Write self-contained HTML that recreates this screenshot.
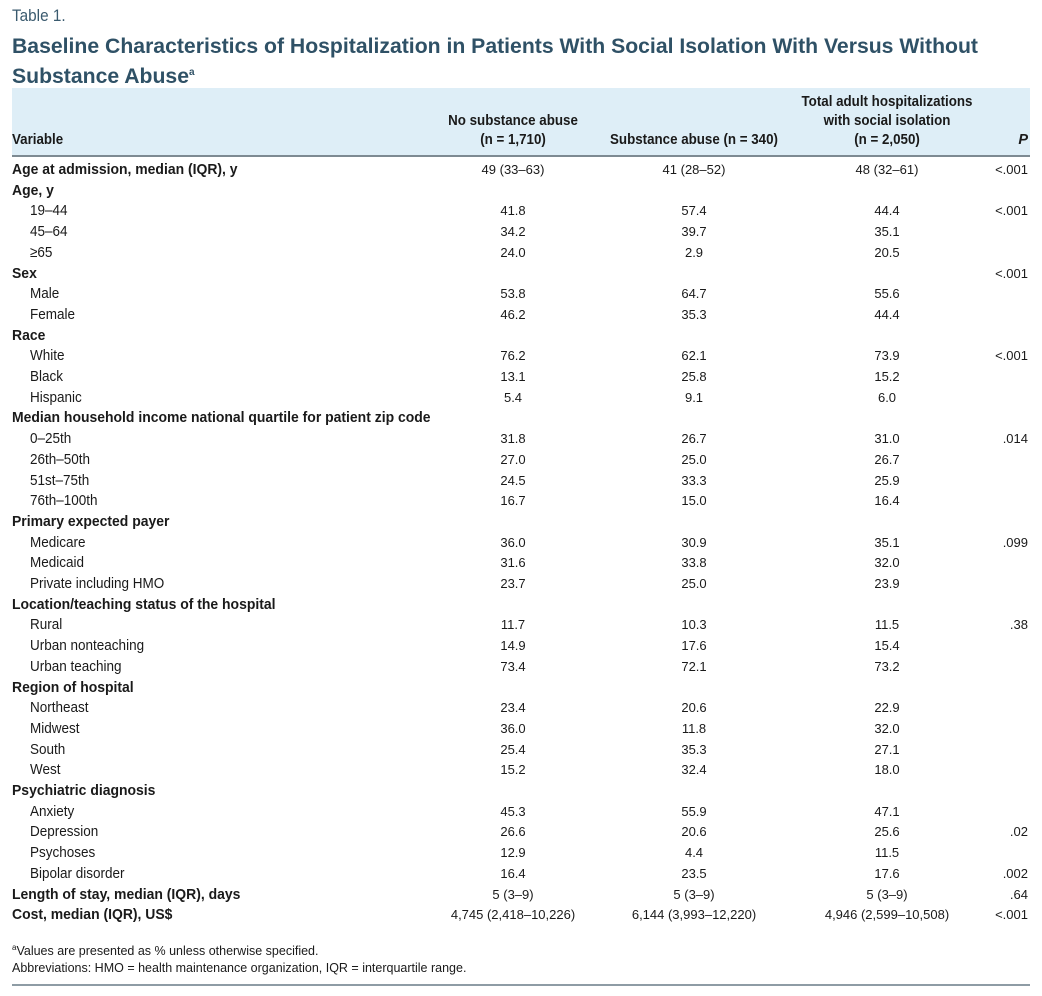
<!DOCTYPE html>
<html><head><meta charset="utf-8">
<style>
body{margin:0;width:1042px;height:996px;background:#fff;position:relative;overflow:hidden;font-family:"Liberation Sans",sans-serif;color:#1a1a1a}
.a{position:absolute;white-space:nowrap}
.lab{font-size:15px;transform:scaleX(0.9);transform-origin:0 0}
.num{font-size:13px;transform:translateX(-50%)}
.p{font-size:13px;transform:translateX(-100%)}
.b{font-weight:bold;transform:scaleX(0.93)}
.h{font-weight:bold;font-size:14.5px;text-align:center;line-height:19px}
</style></head><body>
<div class="a" style="left:12px;top:6px;font-size:17px;color:#3a5a6e;transform:scaleX(0.9);transform-origin:0 0">Table 1.</div>
<div class="a" style="left:12px;top:34px;font-weight:bold;font-size:21.2px;line-height:26px;color:#2f5166">Baseline Characteristics of Hospitalization in Patients With Social Isolation With Versus Without<br>Substance Abuse<sup style="font-size:10px">a</sup></div>
<div class="a" style="left:12px;top:88px;width:1018px;height:67px;background:#deeef7;border-bottom:2px solid #7d8a92"></div>
<div class="a h" style="left:12px;top:131px;transform:scaleX(0.92);transform-origin:0 0">Variable</div>
<div class="a h" style="left:513px;top:112px;transform:translateX(-50%) scaleX(0.92)">No substance abuse<br>(n = 1,710)</div>
<div class="a h" style="left:694px;top:131px;transform:translateX(-50%) scaleX(0.92)">Substance abuse (n = 340)</div>
<div class="a h" style="left:887px;top:93px;transform:translateX(-50%) scaleX(0.92)">Total adult hospitalizations<br>with social isolation<br>(n = 2,050)</div>
<div class="a h" style="left:1028px;top:131px;transform:translateX(-100%);font-style:italic">P</div>
<div id="rows"></div>
<div class="a" style="left:12px;top:943px;font-size:12.5px"><sup style="font-size:8px">a</sup>Values are presented as % unless otherwise specified.</div>
<div class="a" style="left:12px;top:961px;font-size:12.5px">Abbreviations: HMO = health maintenance organization, IQR = interquartile range.</div>
<div class="a" style="left:12px;top:984px;width:1018px;height:2px;background:#8e9ca5"></div>
<script>
const rows=[
["Age at admission, median (IQR), y",1,"49 (33–63)","41 (28–52)","48 (32–61)","<.001"],
["Age, y",1,"","","",""],
["19–44",0,"41.8","57.4","44.4","<.001"],
["45–64",0,"34.2","39.7","35.1",""],
["≥65",0,"24.0","2.9","20.5",""],
["Sex",1,"","","","<.001"],
["Male",0,"53.8","64.7","55.6",""],
["Female",0,"46.2","35.3","44.4",""],
["Race",1,"","","",""],
["White",0,"76.2","62.1","73.9","<.001"],
["Black",0,"13.1","25.8","15.2",""],
["Hispanic",0,"5.4","9.1","6.0",""],
["Median household income national quartile for patient zip code",1,"","","",""],
["0–25th",0,"31.8","26.7","31.0",".014"],
["26th–50th",0,"27.0","25.0","26.7",""],
["51st–75th",0,"24.5","33.3","25.9",""],
["76th–100th",0,"16.7","15.0","16.4",""],
["Primary expected payer",1,"","","",""],
["Medicare",0,"36.0","30.9","35.1",".099"],
["Medicaid",0,"31.6","33.8","32.0",""],
["Private including HMO",0,"23.7","25.0","23.9",""],
["Location/teaching status of the hospital",1,"","","",""],
["Rural",0,"11.7","10.3","11.5",".38"],
["Urban nonteaching",0,"14.9","17.6","15.4",""],
["Urban teaching",0,"73.4","72.1","73.2",""],
["Region of hospital",1,"","","",""],
["Northeast",0,"23.4","20.6","22.9",""],
["Midwest",0,"36.0","11.8","32.0",""],
["South",0,"25.4","35.3","27.1",""],
["West",0,"15.2","32.4","18.0",""],
["Psychiatric diagnosis",1,"","","",""],
["Anxiety",0,"45.3","55.9","47.1",""],
["Depression",0,"26.6","20.6","25.6",".02"],
["Psychoses",0,"12.9","4.4","11.5",""],
["Bipolar disorder",0,"16.4","23.5","17.6",".002"],
["Length of stay, median (IQR), days",1,"5 (3–9)","5 (3–9)","5 (3–9)",".64"],
["Cost, median (IQR), US$",1,"4,745 (2,418–10,226)","6,144 (3,993–12,220)","4,946 (2,599–10,508)","<.001"]
];
const c=document.getElementById('rows');
rows.forEach((r,i)=>{
 const y=161+i*20.7;
 const l=document.createElement('div');
 l.className='a lab'+(r[1]?' b':'');
 l.style.left=(r[1]?12:30)+'px';l.style.top=y+'px';
 l.textContent=r[0];
 
 
 c.appendChild(l);
 [[513,2],[694,3],[887,4]].forEach(([x,k])=>{
  if(!r[k])return;
  const d=document.createElement('div');
  d.className='a num';d.style.left=x+'px';d.style.top=(y+1)+'px';d.textContent=r[k];
  
  
  c.appendChild(d);
 });
 if(r[5]){
  const p=document.createElement('div');
  p.className='a p';p.style.left='1028px';p.style.top=(y+1)+'px';p.textContent=r[5];
  
  
  c.appendChild(p);
 }
});
</script>
</body></html>
